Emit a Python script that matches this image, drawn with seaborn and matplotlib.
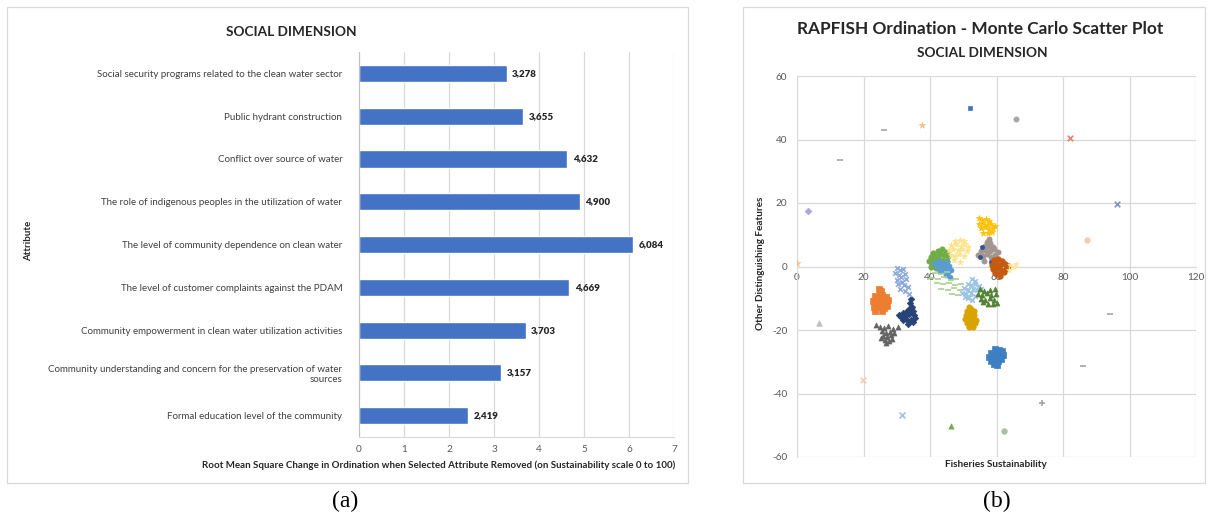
import matplotlib
matplotlib.use("Agg")
import matplotlib.pyplot as plt
from matplotlib.patches import Rectangle
from matplotlib.ticker import FixedLocator
import seaborn as sns

# ---------------- (a) leverage of social attributes ----------------
attributes = [
    "Social security programs related to the clean water sector",
    "Public hydrant construction",
    "Conflict over source of water",
    "The role of indigenous peoples in the utilization of water",
    "The level of community dependence on clean water",
    "The level of customer complaints against the PDAM",
    "Community empowerment in clean water utilization activities",
    "Community understanding and concern for the preservation of water\nsources",
    "Formal education level of the community",
]
rms_change = [3.278, 3.655, 4.632, 4.900, 6.084, 4.669, 3.703, 3.157, 2.419]
rms_ticks = [0, 1, 2, 3, 4, 5, 6, 7]

# ---------------- (b) Monte Carlo ordination ----------------
sust_ticks = [0, 20, 40, 60, 80, 100, 120]
feat_ticks = [-60, -40, -20, 0, 20, 40, 60]

# reference / anchor points
ref_blue_x, ref_blue_y = [52], [50]
ref_gray_x, ref_gray_y = [66], [46.6]
ref_star_x, ref_star_y = [37.5, 0], [44.5, 1]
ref_dash_x, ref_dash_y = [26.2, 12.8, 94.1, 86.1], [43.1, 33.7, -15.1, -31.2]
ref_red_x, ref_red_y = [82.1], [40.5]
ref_diamond_x, ref_diamond_y = [3.3], [17.6]
ref_violet_x, ref_violet_y = [96.2], [19.7]
ref_peach_x, ref_peach_y = [87.3], [8.2]
ref_tri_x, ref_tri_y = [6.6], [-17.7]
ref_cross_x, ref_cross_y = [19.7], [-35.6]
ref_plus_x, ref_plus_y = [73.6], [-43]
ref_sky_x, ref_sky_y = [31.6], [-46.7]
ref_green_x, ref_green_y = [46.2], [-50.3]
ref_sage_x, ref_sage_y = [62.4], [-51.7]

# Monte Carlo clusters
orange_x = [24.6, 25.3, 24.9, 23.4, 24.2, 25.6, 26.8, 27.3, 22.8, 23.6, 24.5, 25.9, 26.6, 23.1, 24.0, 25.2, 26.2, 27.0, 23.5, 25.5]
orange_y = [-7.2, -7.8, -8.6, -9.3, -9.8, -9.1, -9.6, -10.4, -10.8, -11.2, -10.5, -11.0, -11.9, -12.6, -12.9, -12.3, -13.2, -12.5, -13.9, -14.1]
navy_x = [34.2, 34.0, 34.5, 33.6, 34.8, 32.9, 31.8, 30.6, 31.4, 32.5, 33.8, 35.1, 35.6, 34.3, 33.2, 32.0, 34.9, 33.5, 34.1]
navy_y = [-10.3, -11.4, -12.6, -13.4, -13.9, -14.2, -14.6, -15.3, -16.0, -15.6, -15.1, -15.4, -16.3, -16.7, -17.0, -16.9, -17.5, -18.0, -14.4]
dkgray_x = [23.8, 24.9, 26.2, 27.5, 28.9, 30.4, 25.5, 26.8, 28.0, 29.3, 25.9, 27.1, 28.3, 26.4, 27.6, 26.9, 25.2, 28.6]
dkgray_y = [-18.4, -18.9, -19.3, -18.7, -19.6, -19.1, -20.4, -20.8, -20.5, -20.9, -21.8, -22.2, -21.7, -23.0, -23.4, -24.0, -22.6, -22.9]
peri_x = [30.2, 31.0, 31.8, 29.6, 30.7, 32.4, 31.3, 30.1, 32.9, 31.7, 30.5, 32.2, 33.4, 31.1, 32.6, 33.8]
peri_y = [-0.4, -1.1, -0.8, -2.0, -2.6, -2.3, -3.4, -4.1, -3.8, -4.9, -5.5, -5.9, -6.3, -7.1, -7.8, -8.6]
green_x = [41.0, 42.3, 43.6, 44.8, 40.2, 41.5, 42.9, 44.1, 45.3, 39.7, 41.1, 42.5, 43.8, 45.0, 40.6, 42.0, 43.3, 44.4, 41.8, 40.2]
green_y = [4.1, 4.8, 5.4, 4.6, 3.0, 3.4, 3.9, 3.6, 3.2, 1.8, 2.2, 2.6, 2.1, 1.7, 0.6, 0.9, 0.4, 0.8, -0.6, -0.3]
steel_x = [41.3, 42.6, 43.9, 45.1, 42.1, 43.4, 44.7, 45.8, 43.0, 44.3, 45.5, 46.3, 44.9, 45.9]
steel_y = [1.2, 1.6, 1.0, 1.4, -0.2, 0.2, -0.4, 0.3, -1.4, -1.1, -1.7, -1.0, -2.6, -3.2]
pale_x = [47.6, 48.9, 50.1, 46.4, 47.8, 49.2, 50.6, 51.4, 45.6, 46.9, 48.3, 49.7, 51.0, 46.2, 47.5, 48.8, 50.2, 47.1, 49.0]
pale_y = [8.1, 8.4, 7.9, 6.8, 7.0, 6.6, 7.2, 6.1, 5.3, 5.5, 5.1, 5.6, 4.8, 3.7, 3.4, 3.9, 3.2, 1.9, 1.4]
gold_x = [55.6, 56.7, 57.8, 54.6, 55.9, 57.1, 58.3, 59.4, 55.2, 56.4, 57.6, 58.8, 56.0, 57.3, 58.5, 54.8]
gold_y = [14.6, 15.0, 14.4, 13.3, 13.6, 13.1, 13.5, 12.8, 12.0, 12.3, 11.8, 12.1, 10.7, 10.4, 10.9, 15.4]
taupe_x = [57.6, 57.2, 58.1, 56.5, 57.7, 58.9, 55.3, 56.6, 57.9, 59.2, 60.4, 54.5, 55.8, 57.1, 58.4, 59.6, 56.2, 58.6]
taupe_y = [8.8, 7.8, 7.4, 6.3, 6.6, 6.1, 5.0, 5.3, 4.9, 5.4, 4.6, 3.7, 3.4, 3.9, 3.1, 3.6, 1.8, 2.1]
indigo_x = [55.0, 58.4, 55.6]
indigo_y = [2.9, 1.4, 6.2]
rust_x = [59.3, 60.5, 61.8, 58.6, 59.9, 61.2, 62.5, 63.6, 58.9, 60.2, 61.5, 62.8, 59.6, 60.9, 62.2, 61.0]
rust_y = [1.9, 2.3, 1.7, 0.6, 0.9, 0.4, 0.8, 0.2, -0.8, -0.5, -1.0, -0.7, -2.0, -2.4, -1.8, -3.0]
halo_x = [64.2, 65.3, 63.8, 65.9]
halo_y = [0.5, -0.3, -1.2, 0.9]
lime_x = [41.5, 43.2, 45.0, 40.6, 42.4, 44.3, 46.2, 47.8, 42.0, 43.9, 45.7, 47.5, 49.3, 43.4, 45.3, 47.1, 49.0, 50.8, 46.5, 48.4, 50.3, 52.1]
lime_y = [-2.0, -2.3, -1.8, -3.6, -3.9, -3.4, -4.2, -3.8, -5.3, -5.6, -5.1, -5.9, -5.4, -7.0, -7.3, -6.8, -7.5, -7.1, -8.8, -9.1, -8.6, -9.4]
ice_x = [52.6, 53.5, 51.3, 52.4, 53.6, 54.7, 50.2, 51.5, 52.8, 54.1, 55.3, 49.6, 50.9, 52.2, 53.4, 51.4, 52.7, 50.5]
ice_y = [-4.0, -4.6, -5.4, -5.8, -5.5, -6.2, -6.9, -7.3, -7.0, -7.5, -7.1, -8.4, -8.8, -8.5, -9.2, -10.0, -10.6, -9.6]
moss_x = [55.0, 56.3, 57.9, 59.5, 54.4, 55.7, 57.0, 58.4, 59.8, 55.2, 56.6, 57.9, 59.2, 56.0, 57.4, 58.8, 60.2]
moss_y = [-7.1, -7.7, -7.4, -7.2, -8.6, -8.9, -8.4, -9.0, -8.7, -10.1, -10.4, -9.9, -10.6, -11.3, -11.7, -11.9, -11.5]
mustard_x = [51.6, 52.3, 51.2, 52.5, 53.3, 50.8, 51.9, 53.1, 50.5, 51.6, 52.8, 53.8, 51.0, 52.2, 53.4, 51.7, 52.9]
mustard_y = [-12.8, -13.3, -14.1, -14.4, -14.0, -15.3, -15.6, -15.2, -16.5, -16.8, -16.4, -16.9, -17.8, -18.1, -17.7, -18.9, -19.0]
cobalt_x = [59.5, 60.8, 61.6, 58.3, 59.6, 60.9, 61.9, 57.6, 58.9, 60.2, 61.3, 58.2, 59.4, 60.6, 59.1, 60.0]
cobalt_y = [-26.0, -26.3, -26.7, -27.2, -27.5, -27.1, -27.8, -28.5, -28.8, -28.4, -29.1, -29.7, -30.1, -29.8, -30.8, -31.0]

# ---------------- styling ----------------
sns.set_style("white")
plt.rcParams["font.family"] = ["Lato", "DejaVu Sans"]
plt.rcParams["axes.unicode_minus"] = False

TXT = "#404040"
TICK = "#595959"
GRID = "#D9D9D9"
BAR = "#4472C4"

W, H = 1208, 523
fig = plt.figure(figsize=(W / 100, H / 100), dpi=100)


def fx(px):
    return px / W


def fy(py):
    return 1 - py / H


# panel frames
for x0, x1 in [(7, 688), (743, 1205)]:
    fig.patches.append(Rectangle((fx(x0), fy(483)), fx(x1 - x0), (483 - 7) / H,
                                 transform=fig.transFigure, fill=False,
                                 edgecolor=GRID, linewidth=0.9))

# ---------------- panel (a) ----------------
ax1 = fig.add_axes([fx(359), fy(437), fx(674 - 359), (437 - 52) / H])
sns.barplot(x=rms_change, y=attributes, orient="h", color=BAR, width=0.4,
            saturation=1, ax=ax1)
ax1.set_xlim(0, 7)
ax1.set_ylim(8.5, -0.5)
ax1.set_xticks(rms_ticks)
ax1.grid(axis="x", color=GRID, linewidth=0.9)
ax1.grid(axis="y", visible=False)
ax1.set_axisbelow(True)
for s in ["top", "right"]:
    ax1.spines[s].set_visible(False)
ax1.spines["left"].set_color("#BFBFBF")
ax1.spines["bottom"].set_color(GRID)
ax1.tick_params(axis="x", length=0, labelsize=7.2, colors=TICK, pad=6)
ax1.tick_params(axis="y", length=0, labelsize=7.0, labelcolor=TXT, pad=12)
ax1.yaxis.set_minor_locator(FixedLocator([i - 0.5 for i in range(len(attributes) + 1)]))
ax1.tick_params(axis="y", which="minor", length=3, color="#BFBFBF", width=0.8)
for lbl in ax1.get_yticklabels():
    lbl.set_horizontalalignment("right")
    lbl.set_multialignment("right")

ax1.bar_label(ax1.containers[0],
              labels=[f"{v:.3f}".replace(".", ",") for v in rms_change],
              padding=4, fontsize=7.0, fontweight="heavy", color="#262626")

ax1.set_xlabel("Root Mean Square Change in Ordination when Selected Attribute Removed "
               "(on Sustainability scale 0 to 100)",
               fontsize=7.0, fontweight="bold", color="#262626")
ax1.xaxis.set_label_coords((439 - 359) / 315, (437 - 460) / 385)
ax1.set_ylabel("Attribute", fontsize=7.0, fontweight="bold", color="#262626")
ax1.yaxis.set_label_coords((33 - 359) / 315, (437 - 241) / 385)

fig.text(fx(291), fy(32), "SOCIAL DIMENSION", ha="center", va="center",
         fontsize=9.8, fontweight="bold", color="#262626")

# ---------------- panel (b) ----------------
ax2 = fig.add_axes([fx(797), fy(457), fx(1196 - 797), (457 - 76) / H])

series = [
    (orange_x, orange_y, "#ED7D31", "s", 13),
    (navy_x, navy_y, "#264478", "D", 11),
    (dkgray_x, dkgray_y, "#636363", "^", 13),
    (peri_x, peri_y, "#8FAADC", "x", 11),
    (green_x, green_y, "#70AD47", "o", 15),
    (steel_x, steel_y, "#5B9BD5", "o", 13),
    (pale_x, pale_y, "#FFE38A", "*", 20),
    (gold_x, gold_y, "#FFC000", "*", 20),
    (taupe_x, taupe_y, "#A39590", "o", 14),
    (indigo_x, indigo_y, "#2F5597", "o", 9),
    (rust_x, rust_y, "#C55A11", "o", 16),
    (halo_x, halo_y, "#FFE699", "*", 16),
    (lime_x, lime_y, "#A9D18E", "_", 16),
    (ice_x, ice_y, "#9DC3E6", "x", 11),
    (moss_x, moss_y, "#548235", "^", 13),
    (mustard_x, mustard_y, "#D9A400", "o", 15),
    (cobalt_x, cobalt_y, "#3E7FC4", "s", 13),
    (ref_blue_x, ref_blue_y, "#4472C4", "s", 12),
    (ref_gray_x, ref_gray_y, "#A5A5A5", "o", 14),
    (ref_star_x, ref_star_y, "#F4C28A", "*", 22),
    (ref_dash_x, ref_dash_y, "#A5A5A5", "_", 14),
    (ref_red_x, ref_red_y, "#E8826B", "x", 16),
    (ref_diamond_x, ref_diamond_y, "#A9A9E0", "D", 12),
    (ref_violet_x, ref_violet_y, "#7F8FC8", "x", 16),
    (ref_peach_x, ref_peach_y, "#F8CBAD", "o", 16),
    (ref_tri_x, ref_tri_y, "#BFBFBF", "^", 16),
    (ref_cross_x, ref_cross_y, "#F8CBAD", "x", 16),
    (ref_plus_x, ref_plus_y, "#A5A5A5", "+", 18),
    (ref_sky_x, ref_sky_y, "#9DC3E6", "x", 18),
    (ref_green_x, ref_green_y, "#70AD47", "^", 14),
    (ref_sage_x, ref_sage_y, "#A9BFA0", "o", 16),
]
for xs, ys, color, marker, size in series:
    if marker in ("x", "+", "_"):
        kw = dict(linewidth=1.2)
    else:
        kw = dict(edgecolor=color, linewidth=0.5)
    sns.scatterplot(x=xs, y=ys, color=color, marker=marker, s=size,
                    ax=ax2, legend=False, zorder=3, **kw)

ax2.set_xlim(0, 120)
ax2.set_ylim(-60, 60)
ax2.set_xticks(sust_ticks)
ax2.set_yticks(feat_ticks)
ax2.grid(True, color=GRID, linewidth=0.9)
ax2.set_axisbelow(True)
for s in ["top", "right"]:
    ax2.spines[s].set_visible(False)
ax2.spines["bottom"].set_position(("data", 0))
ax2.spines["bottom"].set_color(GRID)
ax2.spines["left"].set_color(GRID)
ax2.tick_params(axis="x", length=0, labelsize=7.2, colors=TICK, pad=5)
ax2.tick_params(axis="y", length=4, color=GRID, labelsize=7.2, labelcolor=TICK, pad=3)

ax2.set_xlabel("Fisheries Sustainability", fontsize=7.2, fontweight="bold", color="#262626")
ax2.xaxis.set_label_coords(0.499, (457 - 460) / 381)
ax2.set_ylabel("Other Distinguishing Features", fontsize=7.2, fontweight="bold", color="#262626")
ax2.yaxis.set_label_coords((765 - 797) / 399, (457 - 263) / 381)

fig.text(fx(980), fy(29), "RAPFISH Ordination - Monte Carlo Scatter Plot",
         ha="center", va="center", fontsize=12.4, fontweight="bold", color="#262626")
fig.text(fx(982), fy(53), "SOCIAL DIMENSION", ha="center", va="center",
         fontsize=9.8, fontweight="bold", color="#262626")

# panel captions
for cx, cap in [(345, "(a)"), (997, "(b)")]:
    fig.text(fx(cx), fy(501), cap, ha="center", va="center",
             fontsize=17, family=["Liberation Serif", "DejaVu Serif"], color="black")

fig.savefig("out.png", dpi=100, facecolor="white")
